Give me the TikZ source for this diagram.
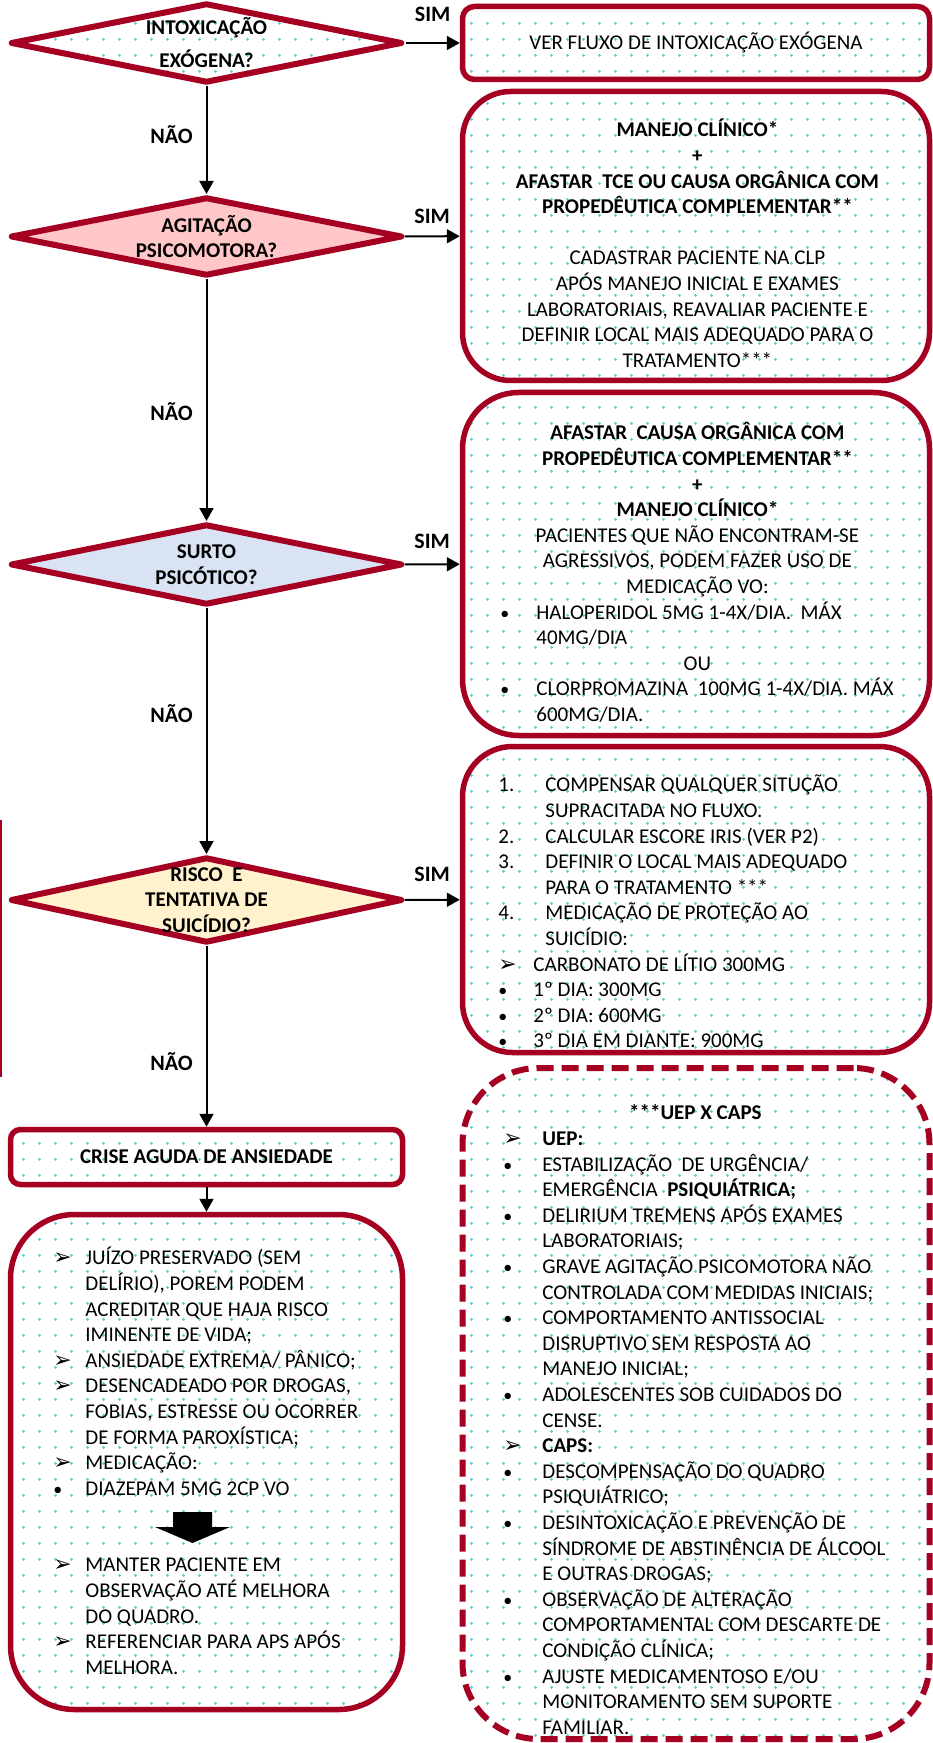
\documentclass[tikz,border=0pt]{standalone}
\usepackage{fontspec}
\setmainfont{Carlito}
\newfontfamily\symf{DejaVu Sans}
\usetikzlibrary{shapes.geometric,arrows.meta,patterns.meta}

\definecolor{crimson}{RGB}{165,0,33}
\definecolor{dotc}{RGB}{90,204,204}
\definecolor{pinkfill}{RGB}{255,199,199}
\definecolor{bluefill}{RGB}{218,227,243}
\definecolor{yellowfill}{RGB}{255,242,204}

\tikzdeclarepattern{
  name=tealdots,
  type=uncolored,
  bounding box={(0pt,0pt) and (8pt,8pt)},
  tile size={(8pt,8pt)},
  code={\fill (4pt,4pt) circle (0.8pt);}
}

\newcommand{\itm}[2][19pt]{\makebox[#1][l]{\strut\hspace{1.5pt}#2}}
\newcommand{\ctr}[2][200pt]{\makebox[#1][c]{\strut #2}}
\newcommand{\arrbul}{{\symf\fontsize{11}{11}\selectfont ➢}}
\newcommand{\dotbul}{{\fontsize{9}{9}\selectfont •}}

\tikzset{
  dia/.style={draw=crimson, line width=3pt, line join=round, shape=diamond, inner sep=0pt, minimum width=196pt},
  dtext/.style={align=center, font=\fontsize{10.5}{12.8}\selectfont\bfseries, inner sep=0pt},
  dotfill/.style={pattern=tealdots, pattern color=dotc},
  box/.style={draw=crimson, line width=2.75pt, dotfill, minimum width=233.5pt, font=\fontsize{10.5}{12.8}\selectfont, align=center},
  btext/.style={align=left, inner sep=0pt, font=\fontsize{10.5}{12.8}\selectfont},
  conn/.style={line width=1pt, -{Triangle[length=6.5pt,width=7pt]}},
  lbl/.style={font=\fontsize{11}{13}\selectfont\bfseries},
}

\begin{document}
\begin{tikzpicture}[x=0.5pt,y=-0.5pt]
  \path[use as bounding box, fill=white] (0,0) rectangle (932,1743);

  % decisions
  \node[dia, dotfill, minimum height=40pt] (intox) at (206.5,43) {};
  \node[dia, fill=pinkfill, minimum height=39.5pt] (agit) at (206.5,236.5) {};
  \node[dia, fill=bluefill, minimum height=40.5pt] (surto) at (206.5,564.5) {};
  \node[dia, fill=yellowfill, minimum height=43pt] (risco) at (206.5,900) {};

  \node[dtext] (intoxt) at (intox) {INTOXICAÇÃO\\[3.7pt]EXÓGENA?};
  \node[dtext] (agitt) at (agit) {AGITAÇÃO\\PSICOMOTORA?};
  \node[dtext] (surtot) at (surto) {SURTO\\PSICÓTICO?};
  \node[dtext] (riscot) at (risco) {RISCO\ \ E\\TENTATIVA DE\\SUICÍDIO?};

  % boxes
  \node[box, minimum height=36.5pt, rounded corners=6pt] (verfluxo) at (696,43) {VER FLUXO DE INTOXICAÇÃO EXÓGENA};
  \node[box, minimum height=144.5pt, rounded corners=24pt] (manejo) at (696,236) {};
  \node[box, minimum height=171.5pt, rounded corners=28pt] (psicose) at (696,564) {};
  \node[box, minimum height=153pt, rounded corners=25pt] (suicidio) at (696,899.5) {};
  \node[box, minimum height=335.5pt, rounded corners=38pt, line width=3pt, dash pattern=on 8.5pt off 4pt] (uepcaps) at (696,1403.5) {};
  \node[box, minimum width=196pt, minimum height=27.5pt, rounded corners=5pt, font=\fontsize{10.5}{12.8}\selectfont\bfseries] (crise) at (206.5,1157) {CRISE AGUDA DE ANSIEDADE};
  \node[box, minimum width=196pt, minimum height=247.5pt, rounded corners=32pt] (ansiedade) at (206.5,1462) {};

  % box texts
  \node[btext, anchor=north west] (manejot) at (497,118.6) {%
    \ctr{\textbf{MANEJO CLÍNICO*}}\\
    \ctr{\textbf{+}}\\
    \ctr{\textbf{AFASTAR\ \ TCE OU CAUSA ORGÂNICA COM}}\\
    \ctr{\textbf{PROPEDÊUTICA COMPLEMENTAR**}}\\
    \ctr{}\\
    \ctr{CADASTRAR PACIENTE NA CLP}\\
    \ctr{APÓS MANEJO INICIAL E EXAMES}\\
    \ctr{LABORATORIAIS, REAVALIAR PACIENTE E}\\
    \ctr{DEFINIR LOCAL MAIS ADEQUADO PARA O}\\
    \ctr{TRATAMENTO***}};

  \node[btext, anchor=north west] (psicoset) at (497,421.6) {%
    \ctr{\textbf{AFASTAR\ \ CAUSA ORGÂNICA COM}}\\
    \ctr{\textbf{PROPEDÊUTICA COMPLEMENTAR**}}\\
    \ctr{\textbf{+}}\\
    \ctr{\textbf{MANEJO CLÍNICO*}}\\
    \ctr{PACIENTES QUE NÃO ENCONTRAM-SE}\\
    \ctr{AGRESSIVOS, PODEM FAZER USO DE}\\
    \ctr{MEDICAÇÃO VO:}\\
    \itm[19.5pt]{\dotbul}HALOPERIDOL 5MG 1-4X/DIA.\ \ MÁX\\
    \itm[19.5pt]{}40MG/DIA\\
    \ctr{OU}\\
    \itm[19.5pt]{\dotbul}CLORPROMAZINA\ \ 100MG 1-4X/DIA. MÁX\\
    \itm[19.5pt]{}600MG/DIA.};

  \node[btext, anchor=north west] (suicidiot) at (495,773.6) {%
    \itm[25pt]{1.}COMPENSAR QUALQUER SITUÇÃO\\
    \itm[25pt]{}SUPRACITADA NO FLUXO.\\
    \itm[25pt]{2.}CALCULAR ESCORE IRIS (VER P2)\\
    \itm[25pt]{3.}DEFINIR O LOCAL MAIS ADEQUADO\\
    \itm[25pt]{}PARA O TRATAMENTO ***\\
    \itm[25pt]{4.}MEDICAÇÃO DE PROTEÇÃO AO\\
    \itm[25pt]{}SUICÍDIO:\\
    \itm{\arrbul}CARBONATO DE LÍTIO 300MG\\
    \itm{\dotbul}1º DIA: 300MG\\
    \itm{\dotbul}2º DIA: 600MG\\
    \itm{\dotbul}3º DIA EM DIANTE: 900MG};

  \node[btext, anchor=north west] (uepcapst) at (500,1101.6) {%
    \ctr[195pt]{\textbf{***UEP X CAPS}}\\
    \itm[21pt]{\arrbul}\textbf{UEP:}\\
    \itm[21pt]{\dotbul}ESTABILIZAÇÃO\ \ DE URGÊNCIA/\\
    \itm[21pt]{}EMERGÊNCIA\ \ \textbf{PSIQUIÁTRICA;}\\
    \itm[21pt]{\dotbul}DELIRIUM TREMENS APÓS EXAMES\\
    \itm[21pt]{}LABORATORIAIS;\\
    \itm[21pt]{\dotbul}GRAVE AGITAÇÃO PSICOMOTORA NÃO\\
    \itm[21pt]{}CONTROLADA COM MEDIDAS INICIAIS;\\
    \itm[21pt]{\dotbul}COMPORTAMENTO ANTISSOCIAL\\
    \itm[21pt]{}DISRUPTIVO SEM RESPOSTA AO\\
    \itm[21pt]{}MANEJO INICIAL;\\
    \itm[21pt]{\dotbul}ADOLESCENTES SOB CUIDADOS DO\\
    \itm[21pt]{}CENSE.\\
    \itm[21pt]{\arrbul}\textbf{CAPS:}\\
    \itm[21pt]{\dotbul}DESCOMPENSAÇÃO DO QUADRO\\
    \itm[21pt]{}PSIQUIÁTRICO;\\
    \itm[21pt]{\dotbul}DESINTOXICAÇÃO E PREVENÇÃO DE\\
    \itm[21pt]{}SÍNDROME DE ABSTINÊNCIA DE ÁLCOOL\\
    \itm[21pt]{}E OUTRAS DROGAS;\\
    \itm[21pt]{\dotbul}OBSERVAÇÃO DE ALTERAÇÃO\\
    \itm[21pt]{}COMPORTAMENTAL COM DESCARTE DE\\
    \itm[21pt]{}CONDIÇÃO CLÍNICA;\\
    \itm[21pt]{\dotbul}AJUSTE MEDICAMENTOSO E/OU\\
    \itm[21pt]{}MONITORAMENTO SEM SUPORTE\\
    \itm[21pt]{}FAMILIAR.};

  \node[btext, anchor=north west] (ansiedadet) at (50,1246.6) {%
    \itm[17.5pt]{\arrbul}JUÍZO PRESERVADO (SEM\\
    \itm[17.5pt]{}DELÍRIO), POREM PODEM\\
    \itm[17.5pt]{}ACREDITAR QUE HAJA RISCO\\
    \itm[17.5pt]{}IMINENTE DE VIDA;\\
    \itm[17.5pt]{\arrbul}ANSIEDADE EXTREMA/ PÂNICO;\\
    \itm[17.5pt]{\arrbul}DESENCADEADO POR DROGAS,\\
    \itm[17.5pt]{}FOBIAS, ESTRESSE OU OCORRER\\
    \itm[17.5pt]{}DE FORMA PAROXÍSTICA;\\
    \itm[17.5pt]{\arrbul}MEDICAÇÃO:\\
    \itm[17.5pt]{\dotbul}DIAZEPAM 5MG 2CP VO};

  \node[btext, anchor=north west] (observt) at (50,1553.6) {%
    \itm[17.5pt]{\arrbul}MANTER PACIENTE EM\\
    \itm[17.5pt]{}OBSERVAÇÃO ATÉ MELHORA\\
    \itm[17.5pt]{}DO QUADRO.\\
    \itm[17.5pt]{\arrbul}REFERENCIAR PARA APS APÓS\\
    \itm[17.5pt]{}MELHORA.};

  % block arrow inside the last box
  \fill (173,1512) -- (212,1512) -- (212,1527) -- (230,1527) -- (192.5,1543)
    -- (155,1527) -- (173,1527) -- cycle;

  % cut edge on the left
  \draw[crimson, line width=0.8pt] (1,820) -- (1,1077);

  % connectors
  \draw[conn] (intox) -- node[lbl, above=6.6pt] (sim1) {SIM} (verfluxo);
  \draw[conn] (agit) -- node[lbl, above=2.6pt] (sim2) {SIM} (manejo);
  \draw[conn] (surto) -- node[lbl, above=4.1pt] (sim3) {SIM} (psicose);
  \draw[conn] (risco) -- node[lbl, above=5.1pt] (sim4) {SIM} (suicidio);

  \draw[conn] (intox) -- node[lbl, left=3pt, pos=0.45] (nao1) {NÃO} (agit);
  \draw[conn] (agit) -- node[lbl, left=3pt, pos=0.55] (nao2) {NÃO} (surto);
  \draw[conn] (surto) -- node[lbl, left=3pt, pos=0.43] (nao3) {NÃO} (risco);
  \draw[conn] (risco) -- node[lbl, left=3pt, pos=0.64] (nao4) {NÃO} (crise);
  \draw[conn] (crise) -- (ansiedade);
\end{tikzpicture}
\end{document}
